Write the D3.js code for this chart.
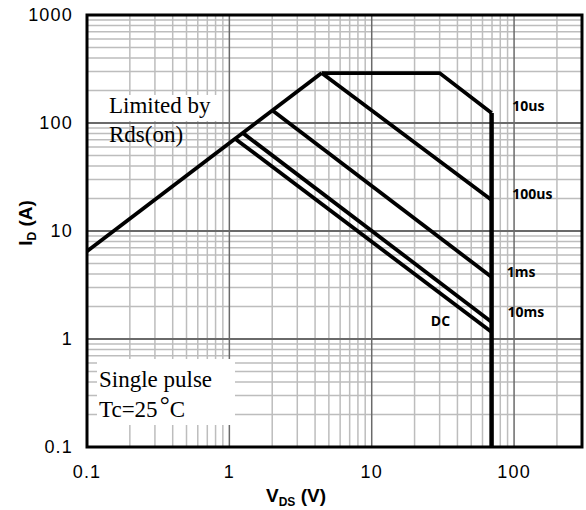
<!DOCTYPE html>
<html>
<head>
<meta charset="utf-8">
<script src="https://cdn.jsdelivr.net/npm/d3@7"></script>
<style>
  body { margin: 0; background: #fff; }
  svg { display: block; }
</style>
</head>
<body>
<div id="chart"></div>
<script>
// axis ticks
var xTicks = [0.1, 1, 10, 100];
var yTicks = [0.1, 1, 10, 100, 1000];

// SOA boundaries, [VDS (V), ID (A)]
var rdsLimit = [[0.1, 6.5], [4.45, 290]];
var us10  = [[4.45, 290], [30, 290], [69.5, 124], [69.5, 0.1]];
var us100 = [[4.45, 290], [69.5, 19.4]];
var ms1   = [[2.02, 130], [69.5, 3.75]];
var ms10  = [[1.24, 81], [69.5, 1.44]];
var dc    = [[1.09, 72], [69.5, 1.16]];

// curve labels, [text, VDS, ID] at the text baseline
var curveLabels = [["10us", 97, 129], ["100us", 97, 19.8], ["1ms", 89, 3.75], ["10ms", 90, 1.6], ["DC", 26, 1.32]];

var margin = {top: 15, right: 4, bottom: 63, left: 87},
    W = 586, H = 510,
    width = W - margin.left - margin.right,
    height = H - margin.top - margin.bottom;

var svg = d3.select("#chart").append("svg")
    .attr("width", W)
    .attr("height", H);

var x = d3.scaleLog().domain([0.1, 300]).range([0, width]);
var y = d3.scaleLog().domain([0.1, 1000]).range([height, 0]);

var g = svg.append("g")
    .attr("transform", "translate(" + margin.left + "," + margin.top + ")");

// grid: minor lines first, decade lines on top
var minorX = [], minorY = [];
[0.1, 1, 10, 100].forEach(function(d) {
  for (var k = 2; k <= 9; k++) { if (d * k <= 300) minorX.push(d * k); }
});
[0.1, 1, 10, 100].forEach(function(d) {
  for (var k = 2; k <= 9; k++) minorY.push(d * k);
});

g.append("g").selectAll("line").data(minorX).enter().append("line")
    .attr("x1", x).attr("x2", x).attr("y1", 0).attr("y2", height)
    .attr("stroke", "#bdbdbd").attr("stroke-width", 1.5);
g.append("g").selectAll("line").data(minorY).enter().append("line")
    .attr("y1", y).attr("y2", y).attr("x1", 0).attr("x2", width)
    .attr("stroke", "#bdbdbd").attr("stroke-width", 1.5);
g.append("g").selectAll("line").data(xTicks).enter().append("line")
    .attr("x1", x).attr("x2", x).attr("y1", 0).attr("y2", height)
    .attr("stroke", "#6a6a6a").attr("stroke-width", 1.5);
g.append("g").selectAll("line").data(yTicks).enter().append("line")
    .attr("y1", y).attr("y2", y).attr("x1", 0).attr("x2", width)
    .attr("stroke", "#6a6a6a").attr("stroke-width", 2);

// white boxes behind the notes
g.append("rect").attr("x", 20).attr("y", 80).attr("width", 110).attr("height", 26).attr("fill", "#fff");
g.append("rect").attr("x", 10).attr("y", 344).attr("width", 138).attr("height", 66).attr("fill", "#fff");

var line = d3.line()
    .x(function(d) { return x(d[0]); })
    .y(function(d) { return y(d[1]); });

[rdsLimit, us100, ms1, ms10, dc].forEach(function(s) {
  g.append("path").datum(s)
      .attr("d", line)
      .attr("fill", "none")
      .attr("stroke", "#000")
      .attr("stroke-width", 3.8);
});
g.append("path").datum(us10.slice(0, 3))
    .attr("d", line)
    .attr("fill", "none")
    .attr("stroke", "#000")
    .attr("stroke-width", 3.8);
g.append("path").datum(us10.slice(2))
    .attr("d", line)
    .attr("fill", "none")
    .attr("stroke", "#000")
    .attr("stroke-width", 4.5);

// frame
g.append("rect")
    .attr("width", width).attr("height", height)
    .attr("fill", "none").attr("stroke", "#000").attr("stroke-width", 3);

// tick labels
g.append("g").selectAll("text").data(yTicks).enter().append("text")
    .attr("x", -14).attr("y", y).attr("dy", "0.35em")
    .attr("text-anchor", "end")
    .style("font", "18px 'Liberation Sans', Arial, sans-serif")
    .style("letter-spacing", "1.2px")
    .text(function(d) { return d; });
g.append("g").selectAll("text").data(xTicks).enter().append("text")
    .attr("x", x).attr("y", height + 31)
    .attr("text-anchor", "middle")
    .style("font", "18px 'Liberation Sans', Arial, sans-serif")
    .style("letter-spacing", "1.2px")
    .text(function(d) { return d; });

// curve labels
g.append("g").selectAll("text").data(curveLabels).enter().append("text")
    .attr("x", function(d) { return x(d[1]); })
    .attr("y", function(d) { return y(d[2]); })
    .style("font", "bold 14px 'Open Sans', sans-serif")
    .text(function(d) { return d[0]; });

// notes
var serif = "23px 'Liberation Serif', 'Times New Roman', serif";
g.append("text").attr("x", 22).attr("y", 98).style("font", serif).text("Limited by");
g.append("text").attr("x", 22).attr("y", 127).style("font", serif).text("Rds(on)");
g.append("text").attr("x", 12).attr("y", 372).style("font", serif).text("Single pulse");
var tc = g.append("text").attr("x", 12).attr("y", 402).style("font", serif);
tc.append("tspan").text("Tc=25");
tc.append("tspan").attr("dy", -4).attr("dx", 2).style("font-size", "25px").text("°");
tc.append("tspan").attr("dy", 4).text("C");

// axis titles
var xt = svg.append("text")
    .attr("x", 296).attr("y", 502)
    .attr("text-anchor", "middle")
    .style("font", "bold 19px 'Liberation Sans', Arial, sans-serif");
xt.append("tspan").text("V");
xt.append("tspan").attr("dy", 4).style("font-size", "12px").text("DS");
xt.append("tspan").attr("dy", -4).text(" (V)");

var yt = svg.append("text")
    .attr("transform", "translate(32,223) rotate(-90)")
    .attr("text-anchor", "middle")
    .style("font", "bold 19px 'Liberation Sans', Arial, sans-serif");
yt.append("tspan").text("I");
yt.append("tspan").attr("dy", 4).style("font-size", "12px").text("D");
yt.append("tspan").attr("dy", -4).text(" (A)");
</script>
</body>
</html>
